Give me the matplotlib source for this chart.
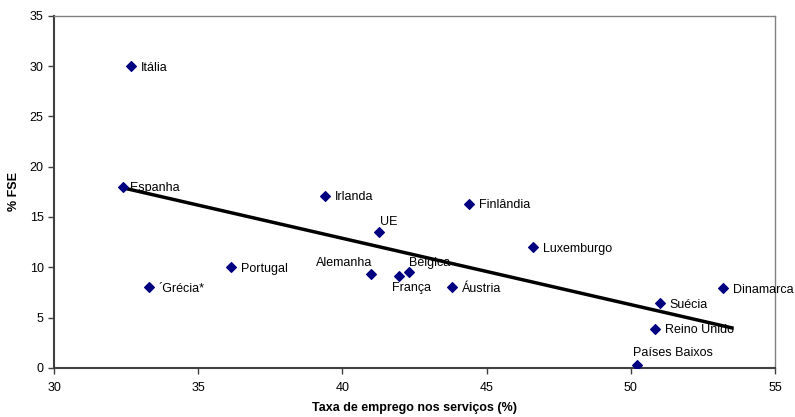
import numpy as np
import matplotlib.pyplot as plt

plt.rcParams['font.family'] = ['Liberation Sans', 'DejaVu Sans']

# Employment in services (%) vs. share of ESF (%), by country
paises = ['Itália', 'Espanha', 'Irlanda', 'UE', 'Finlândia', 'Luxemburgo',
          'Portugal', '´Grécia*', 'Alemanha', 'França', 'Bélgica', 'Áustria',
          'Dinamarca', 'Suécia', 'Reino Unido', 'Países Baixos']
servicos = [32.67, 32.4, 39.4, 41.25, 44.4, 46.6,
            36.15, 33.3, 41.0, 41.95, 42.3, 43.8,
            53.2, 51.0, 50.85, 50.2]
fse = [30.0, 18.0, 17.1, 13.5, 16.3, 12.0,
       10.0, 8.0, 9.3, 9.1, 9.5, 8.0,
       7.9, 6.4, 3.9, 0.3]

# label offsets in points (dx, dy) and alignment
offsets = {
    'Alemanha': (1, 4, 'right', 'bottom'),
    'Bélgica': (0, 2, 'left', 'bottom'),
    'França': (-5, -4, 'left', 'top'),
    'UE': (1, 3, 'left', 'bottom'),
    'Países Baixos': (-3, 4, 'left', 'bottom'),
    'Espanha': (5, -1, 'left', 'center'),
}

fig, ax = plt.subplots(figsize=(7.95, 4.17), dpi=100)
fig.subplots_adjust(left=0.068, right=0.975, top=0.962, bottom=0.118)

ax.scatter(servicos, fse, marker='D', s=24, color='#000080', zorder=3)

for nome, x, y in zip(paises, servicos, fse):
    dx, dy, ha, va = offsets.get(nome, (7, -1, 'left', 'center'))
    ax.annotate(nome, (x, y), xytext=(dx, dy), textcoords='offset points',
                ha=ha, va=va, fontsize=9, color='black', zorder=4)

# linear trend line over the data range
coef = np.polyfit(servicos, fse, 1)
xs = np.array([min(servicos), max(servicos) + 0.3])
ax.plot(xs, np.polyval(coef, xs), color='black', lw=2.5, zorder=2)

ax.set_xlim(30, 55)
ax.set_ylim(0, 35)
ax.set_xticks(range(30, 56, 5))
ax.set_yticks(range(0, 36, 5))
ax.tick_params(labelsize=9, length=4, width=1, direction='out', color='#404040')
ax.tick_params(axis='x', pad=6)

for side in ['top', 'right']:
    ax.spines[side].set_color('#808080')
    ax.spines[side].set_linewidth(1)
for side in ['left', 'bottom']:
    ax.spines[side].set_color('#404040')
    ax.spines[side].set_linewidth(1.5)

ax.set_xlabel('Taxa de emprego nos serviços (%)', fontsize=9, fontweight='bold', labelpad=6)
ax.set_ylabel('% FSE', fontsize=9, fontweight='bold', labelpad=7)

fig.savefig('out.png', dpi=100)
